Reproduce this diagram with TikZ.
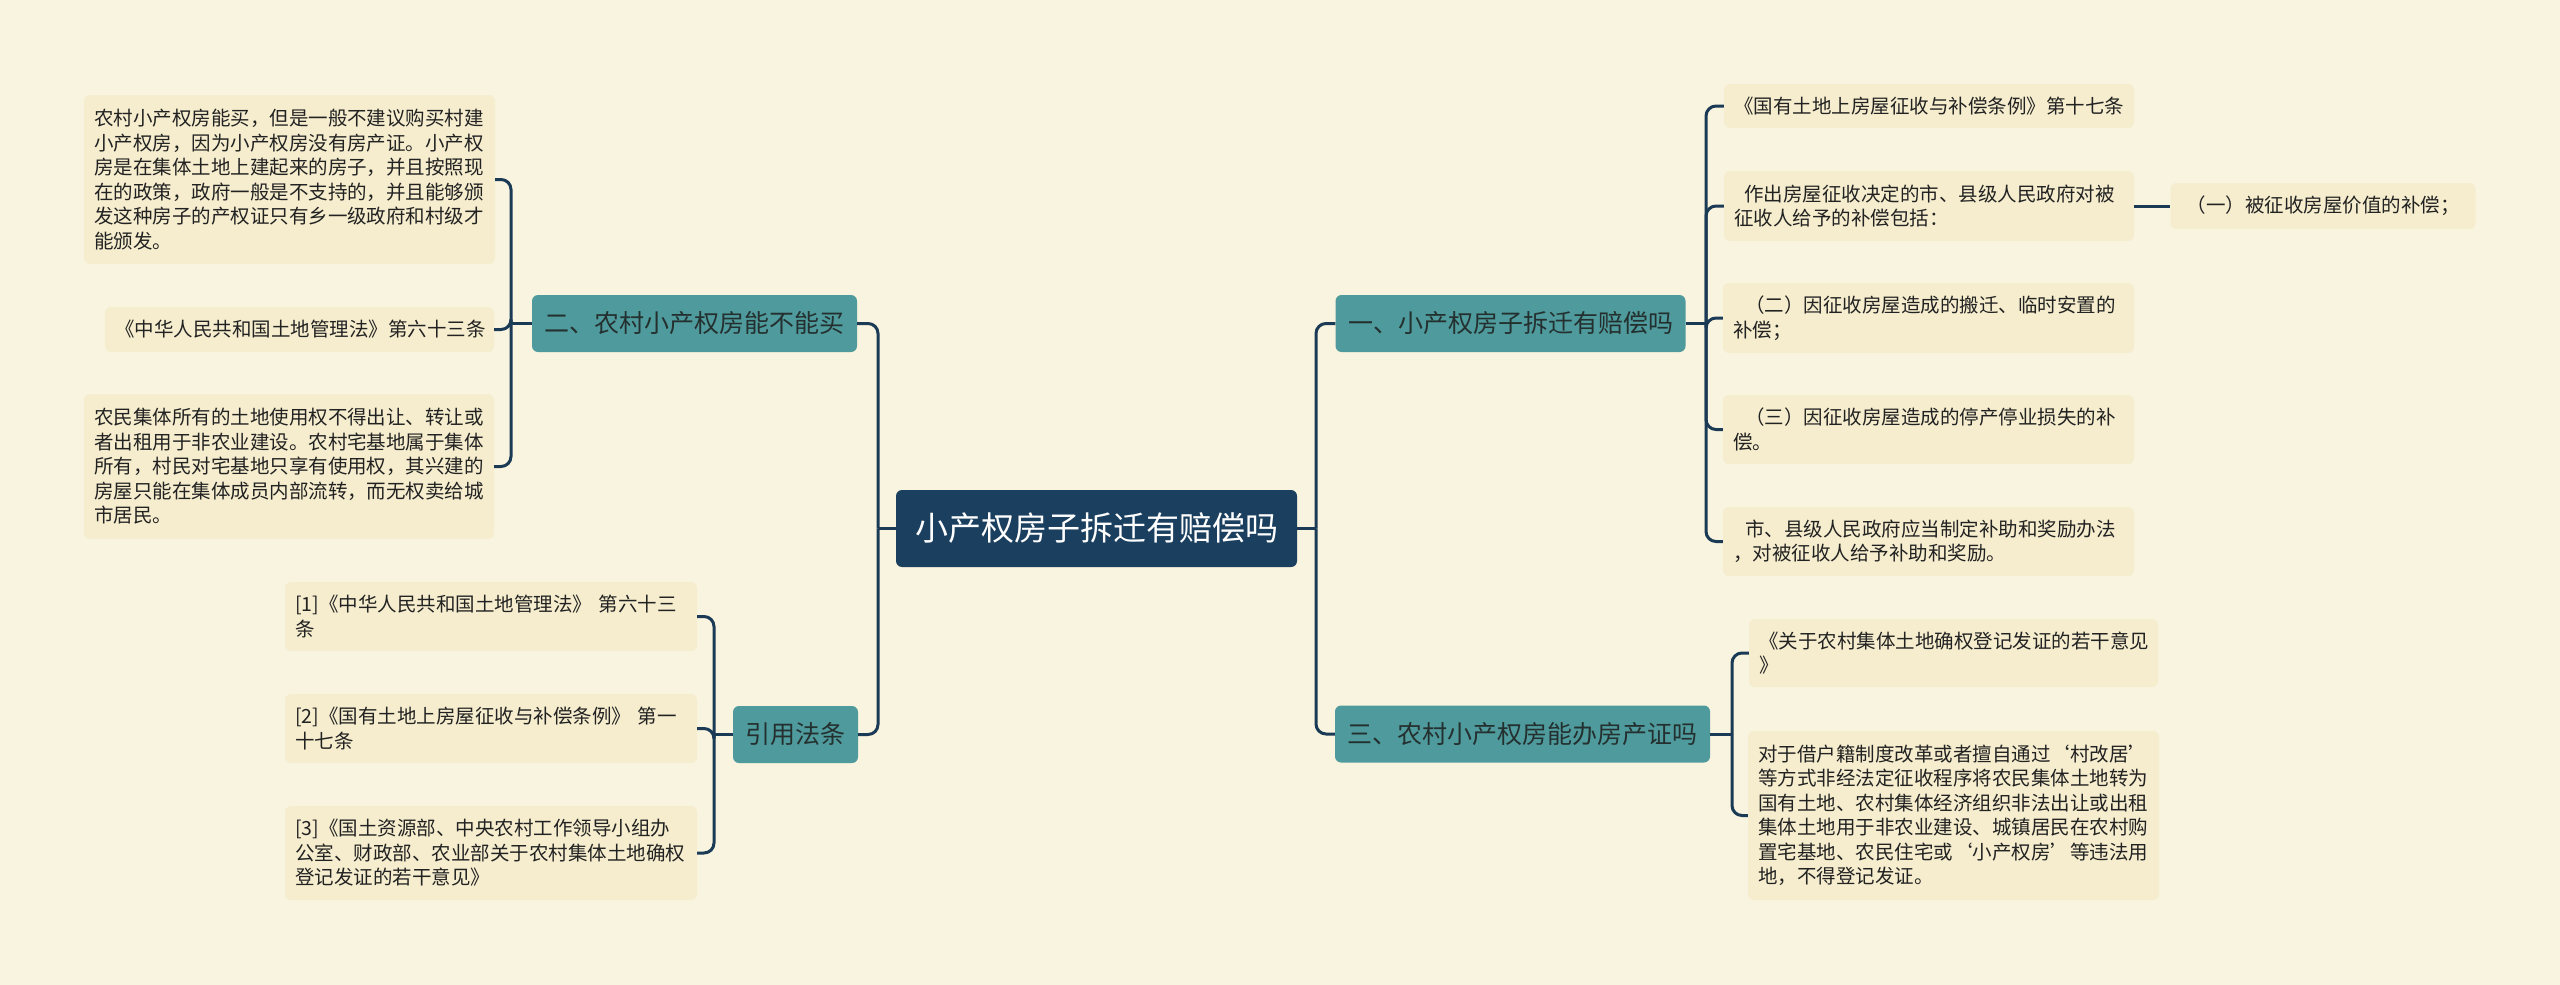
\documentclass[tikz,border=0pt]{standalone}
\usepackage{fontspec}
\newfontfamily\cjk{Noto Sans CJK SC}
\definecolor{bgc}{HTML}{F9F4DF}
\definecolor{leafc}{HTML}{F5EDCE}
\definecolor{tealc}{HTML}{4F9A9C}
\definecolor{rootc}{HTML}{1B3F5E}
\definecolor{linec}{HTML}{1B3A56}
\definecolor{txtc}{HTML}{222222}
\definecolor{midtxt}{HTML}{24302F}
\newcommand{\leaffont}{\cjk\fontsize{19.5}{24.5}\selectfont}
\newcommand{\midfont}{\cjk\fontsize{25}{30}\selectfont}
\newcommand{\rootfont}{\cjk\fontsize{33}{40}\selectfont}
\tikzset{
  leaf/.style={fill=leafc, rounded corners=6pt, inner xsep=10pt, inner ysep=0pt,
    align=left, font=\leaffont, text=txtc},
  midbox/.style={fill=tealc, rounded corners=6pt, inner xsep=12.5pt, inner ysep=0pt,
    minimum height=57pt, font=\midfont, text=midtxt},
  rootbox/.style={fill=rootc, rounded corners=6pt, inner sep=0pt,
    minimum width=401pt, minimum height=77pt, font=\rootfont, text=white},
  conn/.style={draw=linec, line width=3pt, rounded corners=10pt}
}
\begin{document}
\begin{tikzpicture}[x=1pt,y=-1pt]
\fill[bgc] (0,0) rectangle (2560,985);
\useasboundingbox (0,0) rectangle (2560,985);

% root
\node[rootbox] (root) at (1096.5,528.5) {小产权房子拆迁有赔偿吗};

% main branches
\node[midbox] (n2) at (694.5,323.5) {二、农村小产权房能不能买};
\node[midbox] (n4) at (795.5,734.5) {引用法条};
\node[midbox] (n1) at (1510.5,323.5) {一、小产权房子拆迁有赔偿吗};
\node[midbox] (n3) at (1522.5,734) {三、农村小产权房能办房产证吗};

% left leaves
\node[leaf, text width=391pt, minimum height=169pt] (l1) at (289.5,179.5)
 {农村小产权房能买，但是一般不建议购买村建\\小产权房，因为小产权房没有房产证。小产权\\房是在集体土地上建起来的房子，并且按照现\\在的政策，政府一般是不支持的，并且能够颁\\发这种房子的产权证只有乡一级政府和村级才\\能颁发。};
\node[leaf, text width=369pt, minimum height=45pt] (l2) at (299.5,329.5)
 {《中华人民共和国土地管理法》第六十三条};
\node[leaf, text width=390pt, minimum height=145pt] (l3) at (289,466.5)
 {农民集体所有的土地使用权不得出让、转让或\\者出租用于非农业建设。农村宅基地属于集体\\所有，村民对宅基地只享有使用权，其兴建的\\房屋只能在集体成员内部流转，而无权卖给城\\市居民。};

% citation leaves
\node[leaf, text width=392pt, minimum height=69pt] (c1) at (491,616.5)
 {[1]《中华人民共和国土地管理法》 第六十三\\条};
\node[leaf, text width=392pt, minimum height=69pt] (c2) at (491,728.5)
 {[2]《国有土地上房屋征收与补偿条例》 第一\\十七条};
\node[leaf, text width=392pt, minimum height=94pt] (c3) at (491,853)
 {[3]《国土资源部、中央农村工作领导小组办\\公室、财政部、农业部关于农村集体土地确权\\登记发证的若干意见》};

% right leaves of branch one
\node[leaf, text width=390pt, minimum height=44pt] (r1) at (1929,106)
 {《国有土地上房屋征收与补偿条例》第十七条};
\node[leaf, text width=390pt, minimum height=70pt] (r2) at (1929,206)
 {\hspace*{10pt}作出房屋征收决定的市、县级人民政府对被\\征收人给予的补偿包括：};
\node[leaf, align=center, text width=285pt, minimum height=46pt] (r2a) at (2323,206)
 {（一）被征收房屋价值的补偿；};
\node[leaf, text width=391pt, minimum height=70pt] (r3) at (1928.5,318)
 {\hspace*{12pt}（二）因征收房屋造成的搬迁、临时安置的\\补偿；};
\node[leaf, text width=391pt, minimum height=69pt] (r4) at (1928.5,429.5)
 {\hspace*{12pt}（三）因征收房屋造成的停产停业损失的补\\偿。};
\node[leaf, text width=391pt, minimum height=69pt] (r5) at (1928.5,541.5)
 {\hspace*{12pt}市、县级人民政府应当制定补助和奖励办法\\，对被征收人给予补助和奖励。};

% leaves of branch three
\node[leaf, text width=389pt, minimum height=68pt] (t1) at (1953.5,653)
 {《关于农村集体土地确权登记发证的若干意见\\》};
\node[leaf, text width=391pt, minimum height=169pt] (t2) at (1953.5,815.5)
 {对于借户籍制度改革或者擅自通过‘村改居’\\等方式非经法定征收程序将农民集体土地转为\\国有土地、农村集体经济组织非法出让或出租\\集体土地用于非农业建设、城镇居民在农村购\\置宅基地、农民住宅或‘小产权房’等违法用\\地，不得登记发证。};

% bus points
\coordinate (bl) at (878,528.5);
\coordinate (br) at (1316,528.5);
\coordinate (b2) at (511,323.5);
\coordinate (b4) at (714,734.5);
\coordinate (b1) at (1706,323.5);
\coordinate (b3) at (1732,734);

% root connectors
\draw[conn] (root.west) -- (bl);
\draw[conn] (bl) |- (n2.east);
\draw[conn] (bl) |- (n4.east);
\draw[conn] (root.east) -- (br);
\draw[conn] (br) |- (n1.west);
\draw[conn] (br) |- (n3.west);

% branch two
\draw[conn] (n2.west) -- (b2);
\draw[conn] (b2) |- (l1.east);
\draw[conn] (b2) |- (l2.east);
\draw[conn] (b2) |- (l3.east);

% citations
\draw[conn] (n4.west) -- (b4);
\draw[conn] (b4) |- (c1.east);
\draw[conn] (b4) |- (c2.east);
\draw[conn] (b4) |- (c3.east);

% branch one
\draw[conn] (n1.east) -- (b1);
\draw[conn] (b1) |- (r1.west);
\draw[conn] (b1) |- (r2.west);
\draw[conn] (b1) |- (r3.west);
\draw[conn] (b1) |- (r4.west);
\draw[conn] (b1) |- (r5.west);
\draw[conn] (r2.east) -- (r2a.west);

% branch three
\draw[conn] (n3.east) -- (b3);
\draw[conn] (b3) |- (t1.west);
\draw[conn] (b3) |- (t2.west);
\end{tikzpicture}
\end{document}
